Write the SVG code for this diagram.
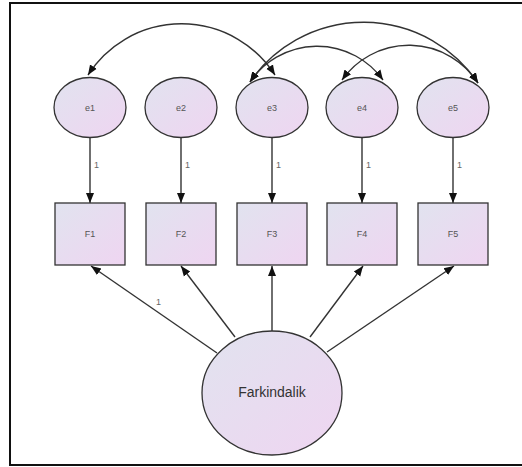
<svg xmlns="http://www.w3.org/2000/svg" width="522" height="467" viewBox="0 0 522 467">
<defs>
<linearGradient id="g" x1="0" y1="0" x2="1" y2="1">
<stop offset="0" stop-color="#e1e3ef"/>
<stop offset="1" stop-color="#efd5f1"/>
</linearGradient>
<marker id="ah" viewBox="0 0 10 10" refX="10" refY="5" markerWidth="10" markerHeight="10" markerUnits="userSpaceOnUse" orient="auto-start-reverse">
<path d="M0,1 L10,5 L0,9 Z" fill="#111"/>
</marker>
</defs>
<style>
.n{fill:url(#g);stroke:#333;stroke-width:1.3}
.c{fill:none;stroke:#333;stroke-width:1.4}
.t{font-family:"Liberation Sans",Arial,sans-serif;font-size:9px;fill:#555;text-anchor:middle;dominant-baseline:central}
.w{font-family:"Liberation Sans",Arial,sans-serif;font-size:9px;fill:#666}
.big{font-family:"Liberation Sans",Arial,sans-serif;font-size:14px;fill:#333;text-anchor:middle;dominant-baseline:central}
</style>
<rect width="522" height="467" fill="#fff"/>
<path d="M528,3 L10,3 L10,465 L528,465" fill="none" stroke="#111" stroke-width="2"/>

<g id="connectors">
<path class="c" d="M88,75 A111,111 0 0 1 275,75" marker-start="url(#ah)" marker-end="url(#ah)"/>
<path class="c" d="M250,82 A138,138 0 0 1 478,83" marker-start="url(#ah)" marker-end="url(#ah)"/>
<path class="c" d="M250,82 A81,81 0 0 1 383,80" marker-start="url(#ah)" marker-end="url(#ah)"/>
<path class="c" d="M342,80 A82,82 0 0 1 478,83" marker-start="url(#ah)" marker-end="url(#ah)"/>
<line class="c" x1="90" y1="137" x2="90" y2="203" marker-end="url(#ah)"/>
<line class="c" x1="181" y1="137" x2="181" y2="203" marker-end="url(#ah)"/>
<line class="c" x1="272" y1="137" x2="272" y2="203" marker-end="url(#ah)"/>
<line class="c" x1="362" y1="137" x2="362" y2="203" marker-end="url(#ah)"/>
<line class="c" x1="453" y1="137" x2="453" y2="203" marker-end="url(#ah)"/>
<text class="w" x="94" y="168">1</text>
<text class="w" x="185" y="168">1</text>
<text class="w" x="276" y="168">1</text>
<text class="w" x="366" y="168">1</text>
<text class="w" x="457" y="168">1</text>
<line class="c" x1="217" y1="353" x2="91" y2="266" marker-end="url(#ah)"/>
<line class="c" x1="235" y1="337" x2="181" y2="266" marker-end="url(#ah)"/>
<line class="c" x1="272" y1="331" x2="272" y2="266" marker-end="url(#ah)"/>
<line class="c" x1="310" y1="337" x2="363" y2="266" marker-end="url(#ah)"/>
<line class="c" x1="327" y1="352" x2="454" y2="266" marker-end="url(#ah)"/>
<text class="w" x="156" y="305">1</text>
</g>

<g id="e1"><ellipse class="n" cx="90" cy="107.5" rx="36" ry="30"/><text class="t" x="90" y="107.5">e1</text></g>
<g id="e2"><ellipse class="n" cx="181" cy="107.5" rx="36" ry="30"/><text class="t" x="181" y="107.5">e2</text></g>
<g id="e3"><ellipse class="n" cx="272" cy="107.5" rx="36" ry="30"/><text class="t" x="272" y="107.5">e3</text></g>
<g id="e4"><ellipse class="n" cx="362" cy="107.5" rx="36" ry="30"/><text class="t" x="362" y="107.5">e4</text></g>
<g id="e5"><ellipse class="n" cx="453" cy="107.5" rx="36" ry="30"/><text class="t" x="453" y="107.5">e5</text></g>

<g id="F1"><rect class="n" x="55" y="203" width="70" height="62"/><text class="t" x="90" y="234">F1</text></g>
<g id="F2"><rect class="n" x="146" y="203" width="70" height="62"/><text class="t" x="181" y="234">F2</text></g>
<g id="F3"><rect class="n" x="237" y="203" width="70" height="62"/><text class="t" x="272" y="234">F3</text></g>
<g id="F4"><rect class="n" x="327" y="203" width="70" height="62"/><text class="t" x="362" y="234">F4</text></g>
<g id="F5"><rect class="n" x="418" y="203" width="70" height="62"/><text class="t" x="453" y="234">F5</text></g>

<g id="Farkindalik"><ellipse class="n" cx="272" cy="393" rx="70" ry="62"/><text class="big" x="272" y="392">Farkindalik</text></g>
</svg>
